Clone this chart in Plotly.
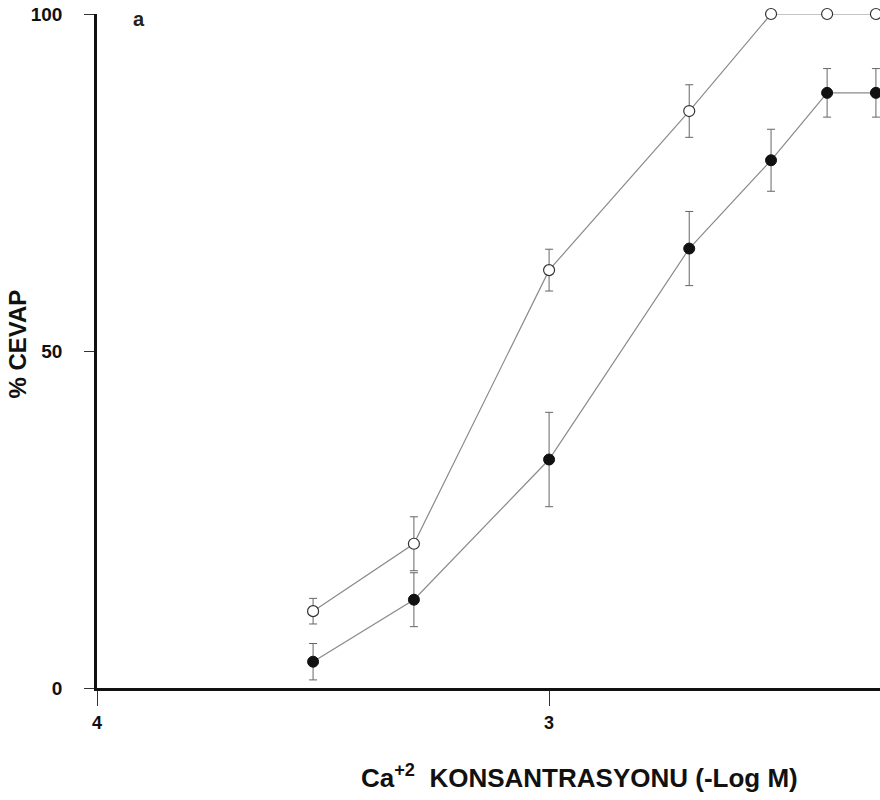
import plotly.graph_objects as go

# -log M concentration values (x)
x_vals = [3.522, 3.299, 3.0, 2.69, 2.509, 2.385, 2.277]
open_y = [11.4, 21.4, 62.0, 85.6, 100, 100, 100]
open_err = [1.9, 4.0, 3.1, 3.9, 0, 0, 0]
filled_y = [3.9, 13.1, 33.9, 65.2, 78.3, 88.3, 88.3]
filled_err = [2.7, 4.0, 7.0, 5.5, 4.6, 3.6, 3.6]

x_tickvals = [4, 3]
x_ticktext = ["4", "3"]
y_tickvals = [0, 50, 100]
y_ticktext = ["0", "50", "100"]

FONT = "Liberation Sans, Arial, sans-serif"
LINE_COL = "#8a8a8a"
ERR_COL = "#666666"

fig = go.Figure()

fig.add_trace(go.Scatter(
    x=x_vals, y=filled_y, mode="lines+markers",
    line=dict(color=LINE_COL, width=1.2),
    marker=dict(symbol="circle", size=11, color="#111111",
                line=dict(color="#111111", width=1)),
    error_y=dict(type="data", array=filled_err, visible=True,
                 color=ERR_COL, thickness=1, width=4),
    cliponaxis=False, showlegend=False,
))

fig.add_trace(go.Scatter(
    x=x_vals, y=open_y, mode="lines+markers",
    line=dict(color=LINE_COL, width=1.2),
    marker=dict(symbol="circle", size=11, color="white",
                line=dict(color="#333333", width=1.2)),
    error_y=dict(type="data", array=open_err, visible=True,
                 color=ERR_COL, thickness=1, width=4),
    cliponaxis=False, showlegend=False,
))

fig.update_layout(
    width=880, height=800,
    margin=dict(l=97, r=0, t=14, b=112),
    paper_bgcolor="white", plot_bgcolor="white",
    font=dict(family=FONT, color="#111111"),
    xaxis=dict(
        range=[4, 2.268], showgrid=False, zeroline=False,
        showline=True, linecolor="#111111", linewidth=2.5,
        tickmode="array", tickvals=x_tickvals, ticktext=x_ticktext,
        ticks="outside", ticklen=15, tickwidth=1, tickcolor="#333333",
        tickfont=dict(family=FONT, size=18, color="#111111", weight="bold"),
        ticklabelstandoff=2,
    ),
    yaxis=dict(
        range=[0, 100], showgrid=False, zeroline=False,
        showline=True, linecolor="#111111", linewidth=2.5,
        tickmode="array", tickvals=y_tickvals, ticktext=y_ticktext,
        ticks="outside", ticklen=10, tickwidth=1.2, tickcolor="#333333",
        tickfont=dict(family=FONT, size=19, color="#111111", weight="bold"),
        ticklabelstandoff=18,
    ),
    annotations=[
        dict(text="Ca<sup>+2</sup>  KONSANTRASYONU (-Log M)",
             xref="paper", yref="paper", x=0.616, y=-0.131,
             xanchor="center", yanchor="middle", showarrow=False,
             font=dict(family=FONT, size=26, color="#111111", weight="bold")),
        dict(text="% CEVAP", xref="paper", yref="paper", x=-0.1009, y=0.511,
             xanchor="center", yanchor="middle", textangle=-90, showarrow=False,
             font=dict(family=FONT, size=24, color="#111111", weight="bold")),
        dict(text="a", xref="paper", yref="paper", x=0.0536, y=0.992,
             xanchor="center", yanchor="middle", showarrow=False,
             font=dict(family=FONT, size=20, color="#222222", weight="bold")),
    ],
)

fig.write_html(
    "out.html",
    config={"displayModeBar": False},
    post_script="document.body.style.margin='0';document.body.style.overflow='hidden';",
)
